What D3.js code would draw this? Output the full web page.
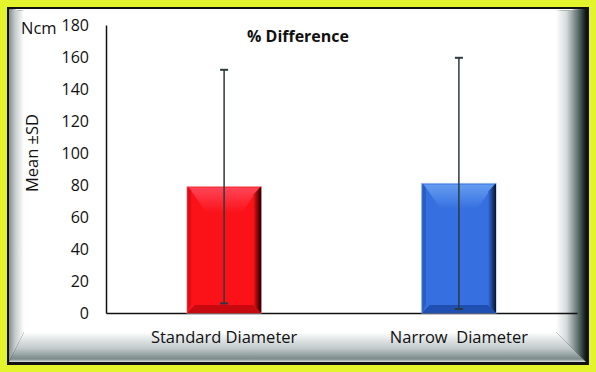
<!DOCTYPE html>
<html>
<head>
<meta charset="utf-8">
<script src="https://cdn.jsdelivr.net/npm/d3@7"></script>
<style>
  body { margin: 0; background: #e4f42c; }
  svg { display: block; }
  text { font-family: "Open Sans", sans-serif; fill: #111; }
</style>
</head>
<body>
<svg width="596" height="372"></svg>
<script>
// data
const categories = ["Standard Diameter", "Narrow  Diameter"];
const means = [79, 81];
const sds = [73, 78.5];
const yTicks = [0, 20, 40, 60, 80, 100, 120, 140, 160, 180];
const barColors = [
  {main: "#fb1218", light: "#ff4a5e", dark: "#1a0000", low: "#c80a10", edge: "#f59aa0"},
  {main: "#356fe0", light: "#6aa2f2", dark: "#06122e", low: "#1f4fb0", edge: "#8fb4f0"}
];

const width = 596, height = 372;
const margin = {top: 25, left: 106, right: 19, bottom: 59};
const plotW = width - margin.left - margin.right;
const plotH = height - margin.top - margin.bottom;

const svg = d3.select("svg");
const defs = svg.append("defs");

// frame with bevel
const L = 9, T = 9, R = 586, B = 362;
const l = 24, t = 11, r = 556, b = 332;

function grad(id, x1, y1, x2, y2, stops) {
  const g = defs.append("linearGradient").attr("id", id)
    .attr("x1", x1).attr("y1", y1).attr("x2", x2).attr("y2", y2);
  stops.forEach(s => g.append("stop").attr("offset", s[0]).attr("stop-color", s[1]));
}
grad("bevL", 0, 0, 1, 0, [[0, "#86908f"], [0.4, "#c4cbcb"], [1, "#ffffff"]]);
grad("bevR", 0, 0, 1, 0, [[0, "#ffffff"], [0.35, "#d4dada"], [0.75, "#5a6a6a"], [1, "#0e1616"]]);
grad("bevB", 0, 0, 0, 1, [[0, "#ffffff"], [0.55, "#c0c8c8"], [0.9, "#7c8a8a"], [1, "#d8dede"]]);

svg.append("rect").attr("x", 7).attr("y", 7).attr("width", 582).attr("height", 358)
  .attr("fill", "#111");
svg.append("rect").attr("x", l).attr("y", t).attr("width", r - l).attr("height", b - t)
  .attr("fill", "#fff");
const poly = pts => pts.map(p => p.join(",")).join(" ");
svg.append("polygon").attr("points", poly([[L, T], [R, T], [r, t], [l, t]])).attr("fill", "#fff");
svg.append("polygon").attr("points", poly([[L, T], [l, t], [l, b], [L, B]])).attr("fill", "url(#bevL)");
svg.append("polygon").attr("points", poly([[R, T], [r, t], [r, b], [R, B]])).attr("fill", "url(#bevR)");
svg.append("polygon").attr("points", poly([[L, B], [l, b], [r, b], [R, B]])).attr("fill", "url(#bevB)");

const g = svg.append("g").attr("transform", `translate(${margin.left},${margin.top})`);

const x = d3.scaleBand()
  .domain(categories)
  .range([0, plotW])
  .paddingInner(0.684)
  .paddingOuter(0.345);

const y = d3.scaleLinear()
  .domain([0, 180])
  .range([plotH, 0]);

// y axis
const yAxis = g.append("g")
  .call(d3.axisLeft(y).tickValues(yTicks).tickSize(0).tickPadding(17));
yAxis.select(".domain").attr("stroke", "#111").attr("stroke-width", 1.5);
yAxis.selectAll("text").style("font-size", "16px").attr("fill", "#111")
  .style("font-family", "'Open Sans', sans-serif");

// x axis
const xAxis = g.append("g")
  .attr("transform", `translate(0,${plotH})`)
  .call(d3.axisBottom(x).tickSize(0).tickPadding(18));
xAxis.select(".domain").attr("stroke", "#111").attr("stroke-width", 1.5);
xAxis.selectAll("text").style("font-size", "16.5px").attr("fill", "#111")
  .style("font-family", "'Open Sans', sans-serif")
  .style("white-space", "pre").attr("xml:space", "preserve");

// bars with bevel look
categories.forEach((c, i) => {
  const c0 = barColors[i];
  grad("barR" + i, 0, 0, 1, 0, [[0, c0.main], [1, c0.dark]]);
  grad("barT" + i, 0, 0, 0, 1, [[0, c0.light], [1, c0.main]]);
  const x0 = x(c), x1 = x(c) + x.bandwidth();
  const y0 = y(means[i]), y1 = y(0);
  const bv = 8;
  const bar = g.append("g").attr("class", "bar");
  bar.append("rect").attr("x", x0).attr("y", y0).attr("width", x1 - x0).attr("height", y1 - y0)
    .attr("fill", c0.main).attr("stroke", c0.edge).attr("stroke-width", 1);
  // top highlight triangle
  bar.append("polygon")
    .attr("points", poly([[x0 + 2, y0 + 1], [x1 - 2, y0 + 1], [(x0 + x1) / 2 + 18, y0 + 26], [(x0 + x1) / 2 - 18, y0 + 26]]))
    .attr("fill", "url(#barT" + i + ")").attr("opacity", 0.9);
  // left bevel
  bar.append("polygon")
    .attr("points", poly([[x0, y0], [x0 + bv / 2, y0 + bv / 2], [x0 + bv / 2, y1 - bv], [x0, y1]]))
    .attr("fill", c0.low).attr("opacity", 0.55);
  // bottom bevel
  bar.append("polygon")
    .attr("points", poly([[x0, y1], [x0 + bv, y1 - bv], [x1 - bv, y1 - bv], [x1, y1]]))
    .attr("fill", c0.low);
  // right bevel
  bar.append("polygon")
    .attr("points", poly([[x1, y0], [x1 - bv, y0 + bv], [x1 - bv, y1 - bv], [x1, y1]]))
    .attr("fill", "url(#barR" + i + ")");
});

// error bars
const errG = g.append("g");
categories.forEach((c, i) => {
  const cx = x(c) + x.bandwidth() / 2;
  const hi = y(means[i] + sds[i]), lo = y(Math.max(0, means[i] - sds[i]));
  errG.append("line").attr("x1", cx).attr("x2", cx).attr("y1", hi).attr("y2", lo)
    .attr("stroke", "#2c3a40").attr("stroke-width", 1.5);
  [hi, lo].forEach(v => errG.append("line")
    .attr("x1", cx - 4).attr("x2", cx + 4).attr("y1", v).attr("y2", v)
    .attr("stroke", "#2c3a40").attr("stroke-width", 2));
});

// title and labels
svg.append("text").attr("x", 298).attr("y", 42).attr("text-anchor", "middle")
  .style("font-size", "16px").style("font-weight", "bold").text("% Difference");
svg.append("text").attr("x", 21).attr("y", 34)
  .style("font-size", "16.5px").text("Ncm");
svg.append("text").attr("transform", "translate(38,153) rotate(-90)")
  .attr("text-anchor", "middle").style("font-size", "16.5px").text("Mean ±SD");
</script>
</body>
</html>
